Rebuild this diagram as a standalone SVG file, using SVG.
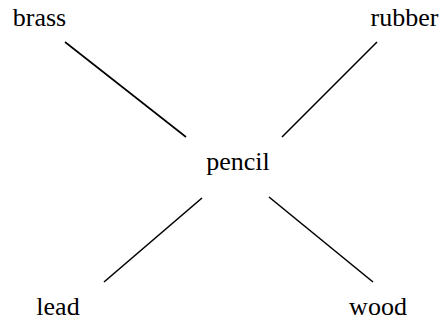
<svg xmlns="http://www.w3.org/2000/svg" width="442" height="320" viewBox="0 0 442 320">
<style>
text{font-family:"Liberation Serif","Times New Roman",serif;font-size:26px;fill:#000;text-anchor:middle}
.e{stroke:#000;stroke-width:1.6;fill:none}
</style>
<rect width="442" height="320" fill="#fff"/>
<g id="connectors">
<line class="e" x1="65" y1="42" x2="186" y2="137"/>
<line class="e" x1="377" y1="42" x2="282" y2="137"/>
<line class="e" x1="202" y1="198" x2="104" y2="282"/>
<line class="e" x1="269" y1="197" x2="373" y2="282"/>
</g>
<g id="brass"><text x="39.5" y="26">brass</text></g>
<g id="rubber"><text x="404.5" y="26">rubber</text></g>
<g id="pencil"><text x="238" y="170">pencil</text></g>
<g id="lead"><text x="58" y="315">lead</text></g>
<g id="wood"><text x="378" y="315">wood</text></g>
</svg>
